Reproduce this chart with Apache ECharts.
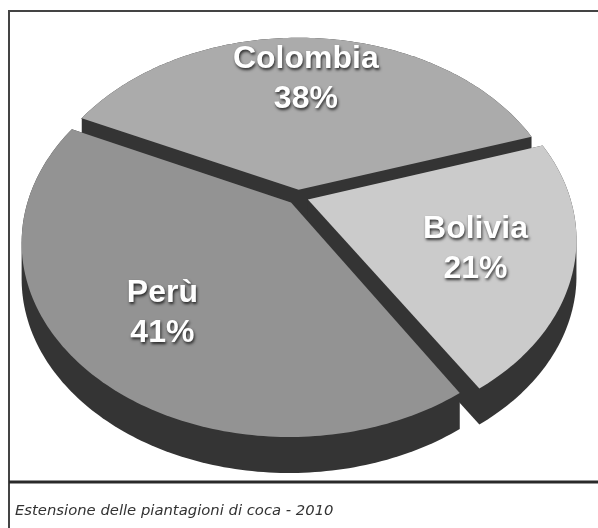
<!DOCTYPE html>
<html>
<head>
<meta charset="utf-8">
<script src="https://cdn.jsdelivr.net/npm/echarts@6/dist/echarts.min.js"></script>
<style>
  html, body { margin: 0; padding: 0; background: #fff; }
  #chart { width: 598px; height: 528px; }
</style>
</head>
<body>
<div id="chart"></div>
<script>
// Coca cultivation area by country, 2010 (percent of total)
const categories = ['Colombia', 'Perù', 'Bolivia'];
const shares = [38, 41, 21];
const caption = 'Estensione delle piantagioni di coca - 2010';

// Appearance of the tilted, extruded pie
const CX = 298, CY = 197;       // projected pie centre
const KX = 262;                 // horizontal radius scale
const KY = 185;                 // vertical radius scale
const PERSP = 0.2;              // perspective strength (near side larger)
const EXPLODE = 0.04;           // slice pull-out, in radius units
const DEPTH = 36;               // extrusion height in pixels
const START = 18;               // angle of first slice edge (degrees, CCW)
const LABEL_R = 0.72;           // label anchor along the slice bisector
const labelNudge = [[-3, 4], [13, -3], [-20, 2]];   // per-slice pixel fine-tuning
const topColors = ['#ababab', '#939393', '#cbcbcb'];
const sideColor = '#343434';

const total = shares.reduce((a, b) => a + b, 0);
const cum = [];
shares.reduce((acc, v, i) => { cum[i] = acc; return acc + v; }, 0);

function project(u, v) {
  const w = 1 + PERSP * v;
  return [CX + KX * u / w, CY - KY * v / w];
}

function midAngle(i) {
  return (START + (cum[i] + shares[i] / 2) / total * 360) * Math.PI / 180;
}

// paint order: far slices first
const order = shares.map((_, i) => i).sort((a, b) => Math.sin(midAngle(b)) - Math.sin(midAngle(a)));
const rank = [];
order.forEach((idx, r) => { rank[idx] = r; });

function hull(pts) {
  const p = pts.slice().sort((a, b) => a[0] - b[0] || a[1] - b[1]);
  const cross = (o, a, b) => (a[0] - o[0]) * (b[1] - o[1]) - (a[1] - o[1]) * (b[0] - o[0]);
  const lower = [], upper = [];
  for (const q of p) {
    while (lower.length >= 2 && cross(lower[lower.length - 2], lower[lower.length - 1], q) <= 0) lower.pop();
    lower.push(q);
  }
  for (let i = p.length - 1; i >= 0; i--) {
    const q = p[i];
    while (upper.length >= 2 && cross(upper[upper.length - 2], upper[upper.length - 1], q) <= 0) upper.pop();
    upper.push(q);
  }
  upper.pop(); lower.pop();
  return lower.concat(upper);
}

function renderSlice(params, api) {
  const i = params.dataIndex;
  const val = api.value(0);
  const a0 = START + cum[i] / total * 360;
  const a1 = a0 + val / total * 360;
  const mid = (a0 + a1) / 2 * Math.PI / 180;
  const ex = EXPLODE * Math.cos(mid), ey = EXPLODE * Math.sin(mid);

  const top = [project(ex, ey)];
  const steps = Math.ceil(a1 - a0);
  for (let s = 0; s <= steps; s++) {
    const a = (a0 + (a1 - a0) * s / steps) * Math.PI / 180;
    top.push(project(ex + Math.cos(a), ey + Math.sin(a)));
  }
  const bottom = top.map(p => [p[0], p[1] + DEPTH]);
  const side = hull(top.concat(bottom));

  const lp = project(ex + LABEL_R * Math.cos(mid), ey + LABEL_R * Math.sin(mid));
  const base = rank[i] * 2;

  return {
    type: 'group',
    children: [
      { type: 'polygon', z2: base, shape: { points: side },
        style: { fill: sideColor } },
      { type: 'polygon', z2: base + 1, shape: { points: top },
        style: { fill: topColors[i] } },
      { type: 'text', z2: 100,
        x: lp[0] + labelNudge[i][0], y: lp[1] + labelNudge[i][1],
        style: {
          text: categories[i] + '\n' + val + '%',
          fill: '#ffffff',
          font: 'bold 32px "Liberation Sans", Arial, sans-serif',
          lineHeight: 40,
          align: 'center',
          verticalAlign: 'middle',
          textShadowColor: 'rgba(0,0,0,0.75)',
          textShadowBlur: 3,
          textShadowOffsetX: 1,
          textShadowOffsetY: 2
        } }
    ]
  };
}

const chart = echarts.init(document.getElementById('chart'), null, { renderer: 'canvas' });
chart.setOption({
  backgroundColor: '#ffffff',
  animation: false,
  title: {
    text: caption,
    left: 10,
    top: 499,
    textStyle: {
      fontFamily: '"DejaVu Sans", Verdana, sans-serif',
      fontStyle: 'italic',
      fontWeight: 'normal',
      fontSize: 14.8,
      color: '#333333'
    }
  },
  graphic: [
    { type: 'line', shape: { x1: 9, y1: 11, x2: 598, y2: 11 }, style: { stroke: '#444', lineWidth: 2 } },
    { type: 'line', shape: { x1: 9, y1: 10, x2: 9, y2: 528 }, style: { stroke: '#444', lineWidth: 2 } },
    { type: 'line', shape: { x1: 9, y1: 482, x2: 598, y2: 482 }, style: { stroke: '#2a2a2a', lineWidth: 3 } }
  ],
  series: [{
    type: 'custom',
    coordinateSystem: 'none',
    renderItem: renderSlice,
    data: shares.map((v, i) => ({ name: categories[i], value: [v] }))
  }]
});
</script>
</body>
</html>
